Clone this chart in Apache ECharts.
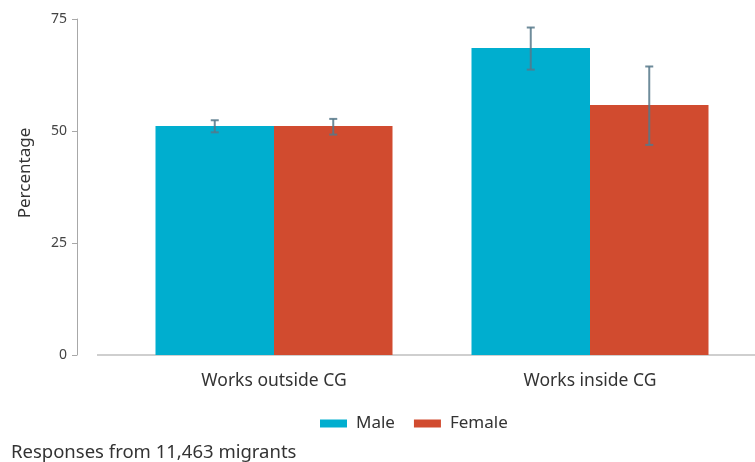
<!DOCTYPE html>
<html>
<head>
<meta charset="utf-8">
<script src="https://cdn.jsdelivr.net/npm/echarts@6/dist/echarts.min.js"></script>
<style>
  html, body { margin: 0; padding: 0; background: #ffffff; }
  #chart { width: 755px; height: 462px; }
</style>
</head>
<body>
<div id="chart"></div>
<script>
// Share of migrants, by workplace and sex, with confidence intervals
var categories = ['Works outside CG', 'Works inside CG'];
var seriesNames = ['Male', 'Female'];
var maleValues = [51.1, 68.5];
var femaleValues = [51.1, 55.8];
var maleLow = [49.7, 63.7];
var maleHigh = [52.4, 73.1];
var femaleLow = [49.2, 46.9];
var femaleHigh = [52.7, 64.4];
var yTicks = [0, 25, 50, 75];

var colors = ['#00aecf', '#d14b2f'];
var fontFamily = '"Noto Sans", "Open Sans", sans-serif';
var categoryGap = 0.25;

function errorData(lows, highs) {
  return categories.map(function (c, i) { return [i, lows[i], highs[i]]; });
}

function makeErrorRenderer(slot) {
  return function (params, api) {
    var idx = api.value(0);
    var lowPt = api.coord([idx, api.value(1)]);
    var highPt = api.coord([idx, api.value(2)]);
    var band = api.size([1, 0])[0];
    var group = band * (1 - categoryGap);
    var x = lowPt[0] + (slot === 0 ? -group / 4 : group / 4);
    var cap = 4;
    var style = { stroke: '#56788a', lineWidth: 2, opacity: 0.85 };
    return {
      type: 'group',
      children: [
        { type: 'line', shape: { x1: x, y1: lowPt[1], x2: x, y2: highPt[1] }, style: style },
        { type: 'line', shape: { x1: x - cap, y1: highPt[1], x2: x + cap, y2: highPt[1] }, style: style },
        { type: 'line', shape: { x1: x - cap, y1: lowPt[1], x2: x + cap, y2: lowPt[1] }, style: style }
      ]
    };
  };
}

var chart = echarts.init(document.getElementById('chart'), null, { renderer: 'canvas' });

chart.setOption({
  animation: false,
  backgroundColor: '#ffffff',
  textStyle: { fontFamily: fontFamily },
  grid: { left: 116, right: 7, top: 19, bottom: 107, containLabel: false },
  legend: {
    data: seriesNames,
    top: 410,
    left: 315,
    itemWidth: 27,
    itemHeight: 8,
    itemGap: 19,
    icon: 'rect',
    textStyle: { fontSize: 17, color: '#333333', fontFamily: fontFamily, padding: [0, 0, 0, 4] }
  },
  xAxis: {
    type: 'category',
    data: categories,
    axisLine: { show: false },
    axisTick: { show: false },
    axisLabel: { fontSize: 17.5, color: '#333333', margin: 17, fontFamily: fontFamily }
  },
  yAxis: {
    type: 'value',
    min: yTicks[0],
    max: yTicks[yTicks.length - 1],
    interval: 25,
    offset: 39,
    axisLine: { show: true, lineStyle: { color: '#a8a8a8', width: 1 } },
    axisTick: { show: true, length: 5, lineStyle: { color: '#a8a8a8' } },
    axisLabel: { fontSize: 14, color: '#444444', margin: 10, fontFamily: fontFamily },
    splitLine: { show: false }
  },
  graphic: [
    {
      type: 'line',
      z: 1,
      shape: { x1: 97, y1: 355, x2: 755, y2: 355 },
      style: { stroke: '#cfcfcf', lineWidth: 2 }
    },
    {
      type: 'text',
      x: 25,
      y: 173,
      rotation: Math.PI / 2,
      style: {
        text: 'Percentage', fontSize: 17, fill: '#333333', fontFamily: fontFamily,
        align: 'center', verticalAlign: 'middle'
      }
    },
    {
      type: 'text',
      left: 11,
      top: 443,
      style: { text: 'Responses from 11,463 migrants', fontSize: 18.5, fill: '#333333', fontFamily: fontFamily }
    }
  ],
  series: [
    {
      name: seriesNames[0],
      type: 'bar',
      data: maleValues,
      barGap: '0%',
      barCategoryGap: (categoryGap * 100) + '%',
      itemStyle: { color: colors[0] },
      z: 2
    },
    {
      name: seriesNames[1],
      type: 'bar',
      data: femaleValues,
      barGap: '0%',
      barCategoryGap: (categoryGap * 100) + '%',
      itemStyle: { color: colors[1] },
      z: 2
    },
    {
      type: 'custom',
      name: 'maleError',
      renderItem: makeErrorRenderer(0),
      data: errorData(maleLow, maleHigh),
      encode: { x: 0, y: [1, 2] },
      z: 5,
      silent: true
    },
    {
      type: 'custom',
      name: 'femaleError',
      renderItem: makeErrorRenderer(1),
      data: errorData(femaleLow, femaleHigh),
      encode: { x: 0, y: [1, 2] },
      z: 5,
      silent: true
    }
  ]
});
</script>
</body>
</html>
